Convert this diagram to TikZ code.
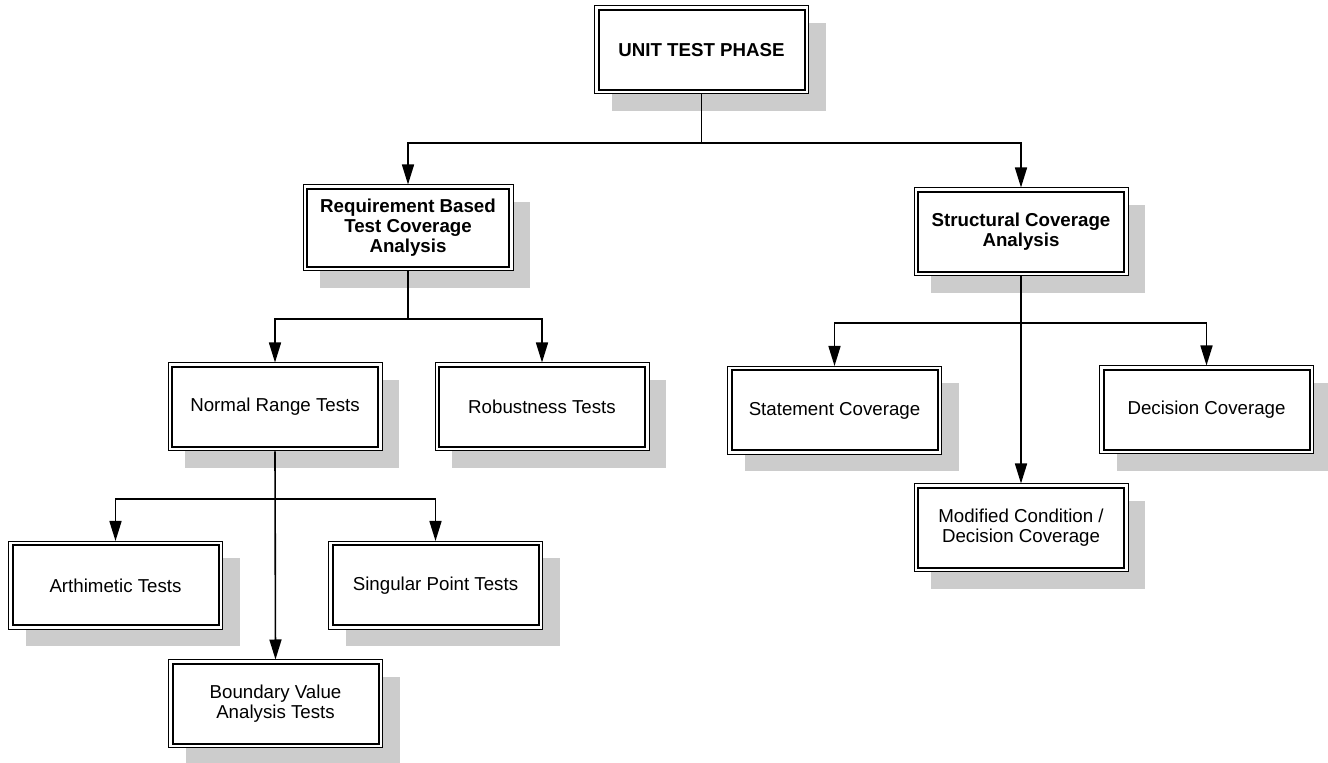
\documentclass[tikz,border=0pt]{standalone}
\usepackage{fontspec}
\setmainfont{Liberation Sans}
\usetikzlibrary{arrows.meta,shadows}
\definecolor{shadowgray}{HTML}{CCCCCC}
\tikzset{
  box/.style={draw, line width=0.5pt, fill=white,
    minimum width=107pt, minimum height=44pt, inner sep=2pt,
    align=center, font=\fontsize{9.35}{10}\selectfont,
    general shadow={shadow xshift=8.5pt, shadow yshift=-8.5pt,
      fill=shadowgray, draw=none},
    path picture={\draw[line width=1pt]
      ([shift={(2pt,2pt)}]path picture bounding box.south west) rectangle
      ([shift={(-2pt,-2pt)}]path picture bounding box.north east);}},
  boldbox/.style={box, font=\fontsize{9.35}{10}\selectfont\bfseries},
  link/.style={line width=0.8pt},
  arr/.style={link, -{Triangle[length=10pt,width=6pt]}}
}
\begin{document}
\begin{tikzpicture}[x=0.5pt,y=-0.5pt]
\useasboundingbox (0,0) rectangle (1328,763);

% boxes
\node[boldbox] (top) at (701.5,50) {UNIT TEST PHASE};
\node[boldbox, minimum width=105pt, minimum height=43pt] (req) at (408,228) {Requirement Based\\Test Coverage\\Analysis};
\node[boldbox] (struct) at (1021,232) {Structural Coverage\\Analysis};
\node[box] (normal) at (275,407) {Normal Range Tests};
\node[box] (robust) at (542,407) {Robustness Tests};
\node[box] (stmt) at (834.5,410.5) {Statement Coverage};
\node[box] (dec) at (1206.5,410) {Decision Coverage};
\node[box] (mcdc) at (1021,528) {Modified Condition /\\Decision Coverage};
\node[box] (arith) at (115.5,585.5) {Arthimetic Tests};
\node[box] (sing) at (435.5,585.5) {Singular Point Tests};
\node[box] (bva) at (275.5,704) {Boundary Value\\Analysis Tests};

% junction points of the tree
\coordinate (j1) at (701.5,143);
\coordinate (j2) at (408,319);
\coordinate (j3) at (1021,323);
\coordinate (j4) at (275,499);

% connectors
\draw[link] (top.south) -- (j1);
\draw[arr] (j1) -| (req.north);
\draw[arr] (j1) -| (struct.north);

\draw[link] (req.south) -- (j2);
\draw[arr] (j2) -| (normal.north);
\draw[arr] (j2) -| (robust.north);

\draw[arr] (struct.south) -- (mcdc.north);
\draw[arr] (j3) -| (stmt.north);
\draw[arr] (j3) -| (dec.north);

\draw[arr] (normal.south) -- (bva.north);
\draw[arr] (j4) -| (arith.north);
\draw[arr] (j4) -| (sing.north);
\end{tikzpicture}
\end{document}
